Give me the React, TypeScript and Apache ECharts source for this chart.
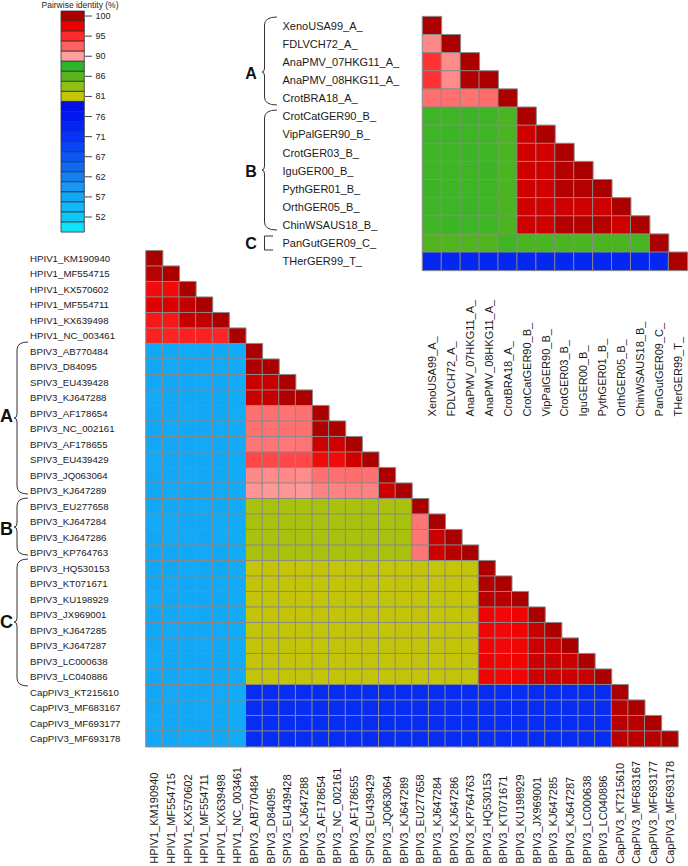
import React, { useEffect, useRef } from "react";
import * as echarts from "echarts";

const FONT = "'Liberation Sans', Arial, sans-serif";

const upperLabels = [
  "XenoUSA99_A_", "FDLVCH72_A_", "AnaPMV_07HKG11_A_", "AnaPMV_08HKG11_A_", "CrotBRA18_A_",
  "CrotCatGER90_B_", "VipPalGER90_B_", "CrotGER03_B_", "IguGER00_B_", "PythGER01_B_",
  "OrthGER05_B_", "ChinWSAUS18_B_", "PanGutGER09_C_", "THerGER99_T_",
];

const lowerLabels = [
  "HPIV1_KM190940", "HPIV1_MF554715", "HPIV1_KX570602", "HPIV1_MF554711", "HPIV1_KX639498",
  "HPIV1_NC_003461", "BPIV3_AB770484", "BPIV3_D84095", "SPIV3_EU439428", "BPIV3_KJ647288",
  "BPIV3_AF178654", "BPIV3_NC_002161", "BPIV3_AF178655", "SPIV3_EU439429", "BPIV3_JQ063064",
  "BPIV3_KJ647289", "BPIV3_EU277658", "BPIV3_KJ647284", "BPIV3_KJ647286", "BPIV3_KP764763",
  "BPIV3_HQ530153", "BPIV3_KT071671", "BPIV3_KU198929", "BPIV3_JX969001", "BPIV3_KJ647285",
  "BPIV3_KJ647287", "BPIV3_LC000638", "BPIV3_LC040886", "CapPIV3_KT215610", "CapPIV3_MF683167",
  "CapPIV3_MF693177", "CapPIV3_MF693178",
];

// Pairwise identity (%) — lower triangle, row by row
const upperValues: number[][] = [
  [100],
  [91.3, 100],
  [94.8, 91.2, 100],
  [94.8, 91.2, 99.8, 100],
  [92.2, 92.2, 92.1, 92.3, 100],
  [87.2, 87.2, 87.3, 87.2, 86.4, 100],
  [87.2, 87.3, 87.2, 87.2, 86.4, 98.7, 100],
  [87.2, 87.2, 87.3, 87.2, 86.4, 98.7, 98.6, 100],
  [87.2, 87.2, 87.2, 87.3, 86.4, 98.7, 98.7, 99.7, 100],
  [87.3, 87.2, 87.2, 87.2, 86.4, 98.7, 98.6, 99.6, 99.7, 100],
  [87.2, 87.2, 87.3, 87.2, 86.5, 98.6, 98.6, 98.7, 98.7, 98.7, 100],
  [87.2, 87.3, 87.2, 87.2, 86.4, 98.7, 98.7, 99.7, 99.6, 99.6, 98.7, 100],
  [86.0, 86.0, 86.1, 86.0, 87.0, 86.5, 86.6, 86.4, 86.5, 86.4, 86.5, 86.6, 100],
  [73.0, 73.0, 73.1, 73.0, 73.1, 73.0, 73.0, 72.9, 73.0, 73.0, 73.1, 73.0, 73.1, 100],
];

const lowerValues: number[][] = [
  [100],
  [99.4, 100],
  [97.0, 97.0, 100],
  [98.1, 98.2, 99.2, 100],
  [96.3, 96.3, 99.0, 99.2, 100],
  [95.7, 95.6, 95.7, 95.7, 95.5, 100],
  [56.8, 56.8, 56.7, 56.8, 56.8, 56.4, 100],
  [56.8, 56.7, 56.8, 56.8, 56.7, 56.4, 99.9, 100],
  [56.8, 56.8, 56.8, 56.7, 56.8, 56.4, 98.9, 98.9, 100],
  [56.7, 56.8, 56.8, 56.8, 56.8, 56.3, 98.9, 99.1, 99.8, 100],
  [56.8, 56.8, 56.7, 56.8, 56.8, 56.0, 92.2, 92.2, 92.1, 92.2, 100],
  [56.8, 56.7, 56.8, 56.8, 56.7, 56.4, 92.2, 92.1, 92.2, 92.2, 99.8, 100],
  [56.8, 56.8, 56.8, 56.7, 56.8, 56.4, 92.0, 92.0, 91.9, 92.0, 98.7, 98.7, 100],
  [56.7, 56.8, 56.8, 56.8, 56.8, 56.3, 93.9, 93.9, 93.8, 93.9, 97.0, 97.0, 98.7, 100],
  [56.8, 56.8, 56.7, 56.8, 56.8, 56.4, 91.3, 91.2, 91.3, 91.2, 92.2, 92.2, 92.3, 92.2, 100],
  [56.8, 56.7, 56.8, 56.8, 56.7, 56.4, 90.8, 90.7, 90.8, 90.7, 91.5, 91.5, 91.6, 91.5, 98.8, 100],
  [56.8, 56.8, 56.8, 56.7, 56.8, 56.4, 82.0, 82.1, 82.0, 82.0, 82.1, 82.0, 82.0, 82.1, 82.0, 82.0, 100],
  [56.7, 56.3, 56.8, 56.8, 56.3, 56.4, 82.1, 82.0, 82.0, 82.1, 82.0, 82.0, 82.1, 82.0, 82.0, 82.1, 92.0, 100],
  [56.8, 56.3, 56.7, 56.8, 56.3, 56.4, 82.0, 82.0, 82.1, 82.0, 82.0, 82.1, 82.0, 82.0, 82.1, 82.0, 92.0, 98.8, 100],
  [56.8, 56.8, 56.8, 56.7, 56.8, 56.4, 82.0, 82.1, 82.0, 82.0, 82.1, 82.0, 82.0, 82.1, 82.0, 82.0, 92.0, 98.8, 99.5, 100],
  [56.8, 56.8, 56.7, 56.8, 56.8, 56.4, 80.8, 80.9, 80.8, 80.8, 80.9, 80.8, 80.8, 80.9, 80.8, 80.8, 80.9, 80.8, 80.8, 80.9, 100],
  [56.8, 56.7, 56.8, 56.8, 56.7, 56.4, 80.9, 80.8, 80.8, 80.9, 80.8, 80.8, 80.9, 80.8, 80.8, 80.9, 80.8, 80.8, 80.9, 80.8, 99.8, 100],
  [56.7, 56.8, 56.8, 56.8, 56.8, 56.3, 80.8, 80.8, 80.9, 80.8, 80.8, 80.9, 80.8, 80.8, 80.9, 80.8, 80.8, 80.9, 80.8, 80.8, 99.5, 99.5, 100],
  [56.8, 56.8, 56.7, 56.8, 56.8, 56.4, 80.8, 80.9, 80.8, 80.8, 80.9, 80.8, 80.8, 80.9, 80.8, 80.8, 80.9, 80.8, 80.8, 80.9, 97.4, 97.2, 97.4, 100],
  [56.8, 56.7, 56.8, 56.8, 56.7, 56.4, 80.9, 80.8, 80.8, 80.9, 80.8, 80.8, 80.9, 80.8, 80.8, 80.9, 80.8, 80.8, 80.9, 80.8, 97.3, 97.2, 97.4, 98.9, 100],
  [56.8, 56.8, 56.8, 56.7, 56.8, 56.4, 80.8, 80.8, 80.9, 80.8, 80.8, 80.9, 80.8, 80.8, 80.9, 80.8, 80.8, 80.9, 80.8, 80.8, 97.3, 97.2, 97.3, 98.8, 98.9, 100],
  [56.7, 56.8, 56.8, 56.8, 56.8, 56.3, 80.8, 80.9, 80.8, 80.8, 80.9, 80.8, 80.8, 80.9, 80.8, 80.8, 80.9, 80.8, 80.8, 80.9, 97.5, 97.3, 97.4, 98.9, 98.9, 98.8, 100],
  [56.8, 56.8, 56.7, 56.8, 56.8, 56.4, 80.9, 80.8, 80.8, 80.9, 80.8, 80.8, 80.9, 80.8, 80.8, 80.9, 80.8, 80.8, 80.9, 80.8, 97.4, 97.2, 97.3, 98.8, 98.9, 98.8, 98.9, 100],
  [56.8, 56.7, 56.8, 56.8, 56.7, 56.3, 72.0, 72.1, 71.9, 72.0, 72.1, 72.0, 71.9, 72.0, 72.1, 72.0, 72.0, 71.9, 72.0, 72.1, 72.0, 72.0, 71.9, 72.0, 72.1, 72.0, 72.0, 72.0, 100],
  [56.8, 56.8, 56.8, 56.7, 56.8, 56.4, 72.1, 72.0, 72.0, 71.9, 72.0, 72.1, 72.0, 72.0, 71.9, 72.0, 72.1, 72.0, 72.0, 71.9, 72.0, 72.1, 72.0, 72.0, 71.9, 72.0, 72.1, 72.0, 99.5, 100],
  [56.7, 56.8, 56.8, 56.8, 56.8, 56.4, 72.0, 71.9, 72.0, 72.1, 72.0, 72.0, 71.9, 72.1, 72.0, 72.0, 72.0, 72.1, 71.9, 72.0, 72.0, 72.0, 72.1, 71.9, 72.0, 72.0, 72.0, 72.1, 99.5, 99.5, 100],
  [56.8, 56.8, 56.7, 56.8, 56.8, 56.3, 72.0, 72.0, 72.1, 72.0, 71.9, 72.0, 72.0, 72.1, 72.0, 71.9, 72.0, 72.0, 72.1, 72.0, 71.9, 72.0, 72.0, 72.1, 72.0, 72.0, 71.9, 72.0, 99.5, 99.5, 99.5, 100],
];

// Colour scale, top (100 %) to bottom
const legendColors = [
  "#aa0000", "#ee0000", "#ff2a2a", "#ff6060", "#ffa0a0",
  "#2eb52a", "#5ab51c", "#8fc014", "#c4c408",
  "#0010e6", "#0018ee", "#0424f0", "#0832f4", "#0a44f4", "#0c56f4",
  "#1068ee", "#1480ee", "#1698f4", "#12a8f8", "#10b8f8", "#0cc8f8", "#10e2f8",
];
const legendTicks = ["100", "95", "90", "86", "81", "76", "71", "67", "62", "57", "52"];
const legendTitle = "Pairwise identity (%)";
const scaleMax = 100;
const scaleMin = 49.6;

const upperGroups = [
  { label: "A", y0: 17, y1: 105, ym: 72, ly: 73 },
  { label: "B", y0: 110, y1: 230, ym: 170, ly: 171 },
];
const lowerGroups = [
  { label: "A", y0: 342, y1: 494, ym: 418, ly: 416 },
  { label: "B", y0: 498, y1: 555, ym: 527, ly: 529 },
  { label: "C", y0: 559, y1: 686, ym: 622, ly: 622 },
];

function toCells(rows: number[][]) {
  const out: number[][] = [];
  rows.forEach((row, r) => row.forEach((v, c) => out.push([c, r, v])));
  return out;
}

function brace(xTip: number, xLine: number, xEnd: number, y0: number, y1: number, ym: number, r: number) {
  const s = { stroke: "#333", lineWidth: 1, fill: "none" };
  return [
    { type: "bezierCurve", shape: { x1: xEnd, y1: y0, x2: xLine, y2: y0 + r, cpx1: xLine, cpy1: y0 }, style: s },
    { type: "line", shape: { x1: xLine, y1: y0 + r, x2: xLine, y2: ym - 4 }, style: s },
    { type: "bezierCurve", shape: { x1: xLine, y1: ym - 4, x2: xTip, y2: ym, cpx1: xLine, cpy1: ym }, style: s },
    { type: "bezierCurve", shape: { x1: xTip, y1: ym, x2: xLine, y2: ym + 4, cpx1: xLine, cpy1: ym }, style: s },
    { type: "line", shape: { x1: xLine, y1: ym + 4, x2: xLine, y2: y1 - r }, style: s },
    { type: "bezierCurve", shape: { x1: xLine, y1: y1 - r, x2: xEnd, y2: y1, cpx1: xLine, cpy1: y1 }, style: s },
  ];
}

export default function App() {
  const ref = useRef<HTMLDivElement>(null);
  useEffect(() => {
    document.body.style.margin = "0";
    if (!ref.current) return;
    const chart = echarts.init(ref.current, undefined, { renderer: "svg" });

    const boxTop = 11;
    const boxH = 10.05;
    const graphics: any[] = [];
    graphics.push({
      type: "text", x: 80, y: 5,
      style: { text: legendTitle, fontSize: 8.5, fontFamily: FONT, fill: "#222", align: "center", verticalAlign: "middle" },
    });
    legendColors.forEach((c, i) => {
      graphics.push({
        type: "rect",
        shape: { x: 61, y: boxTop + i * boxH, width: 23.3, height: boxH },
        style: { fill: c, stroke: "#333", lineWidth: 0.8 },
      });
    });
    legendTicks.forEach((t, k) => {
      const y = boxTop + 2 * k * boxH + boxH / 2;
      graphics.push({ type: "line", shape: { x1: 85, y1: y, x2: 92, y2: y }, style: { stroke: "#444", lineWidth: 1 } });
      graphics.push({
        type: "text", x: 95.5, y,
        style: { text: t, fontSize: 9, fontFamily: FONT, fill: "#222", align: "left", verticalAlign: "middle" },
      });
    });
    upperGroups.forEach((g) => {
      graphics.push(...brace(262, 264.5, 277, g.y0, g.y1, g.ym, 8));
      graphics.push({
        type: "text", x: 251, y: g.ly,
        style: { text: g.label, fontSize: 16, fontWeight: "bold", fontFamily: FONT, fill: "#111", align: "center", verticalAlign: "middle" },
      });
    });
    // C bracket (upper)
    graphics.push({
      type: "polyline",
      shape: { points: [[273, 236], [264.5, 236], [264.5, 250], [273, 250]] },
      style: { stroke: "#333", lineWidth: 1, fill: "none" },
    });
    graphics.push({
      type: "text", x: 251, y: 243,
      style: { text: "C", fontSize: 16, fontWeight: "bold", fontFamily: FONT, fill: "#111", align: "center", verticalAlign: "middle" },
    });
    lowerGroups.forEach((g) => {
      graphics.push(...brace(14, 17, 28, g.y0, g.y1, g.ym, 8));
      graphics.push({
        type: "text", x: 6.5, y: g.ly,
        style: { text: g.label, fontSize: 18, fontWeight: "bold", fontFamily: FONT, fill: "#111", align: "center", verticalAlign: "middle" },
      });
    });

    const axisCommon = {
      type: "category",
      axisLine: { show: false },
      axisTick: { show: false },
      splitLine: { show: false },
    };
    const labelColor = "#1a1a1a";

    const option: any = {
      animation: false,
      textStyle: { fontFamily: FONT },
      grid: [
        { left: 422.5, top: 16.6, width: 265, height: 253.8, outerBoundsMode: "none", containLabel: false },
        { left: 146, top: 250.7, width: 532, height: 496, outerBoundsMode: "none", containLabel: false },
      ],
      xAxis: [
        {
          ...axisCommon, gridIndex: 0, data: upperLabels,
          axisLabel: { interval: 0, rotate: 90, align: "left", margin: 146, fontSize: 11, color: labelColor, fontFamily: FONT },
        },
        {
          ...axisCommon, gridIndex: 1, data: lowerLabels,
          axisLabel: { interval: 0, rotate: 90, align: "left", margin: 117, fontSize: 11, color: labelColor, fontFamily: FONT },
        },
      ],
      yAxis: [
        {
          ...axisCommon, gridIndex: 0, data: upperLabels, inverse: true,
          axisLabel: { interval: 0, align: "left", margin: 140, fontSize: 11, color: labelColor, fontFamily: FONT },
        },
        {
          ...axisCommon, gridIndex: 1, data: lowerLabels, inverse: true,
          axisLabel: { interval: 0, align: "left", margin: 116, fontSize: 9.7, color: labelColor, fontFamily: FONT },
        },
      ],
      visualMap: {
        type: "continuous",
        show: false,
        min: scaleMin,
        max: scaleMax,
        seriesIndex: [0, 1],
        dimension: 2,
        inRange: { color: [...legendColors].reverse() },
      },
      series: [
        {
          type: "heatmap", xAxisIndex: 0, yAxisIndex: 0, data: toCells(upperValues),
          itemStyle: { borderColor: "#8a8a8a", borderWidth: 1 },
          emphasis: { disabled: true },
        },
        {
          type: "heatmap", xAxisIndex: 1, yAxisIndex: 1, data: toCells(lowerValues),
          itemStyle: { borderColor: "#8a8a8a", borderWidth: 1 },
          emphasis: { disabled: true },
        },
      ],
      graphic: graphics,
    };
    chart.setOption(option);
    return () => chart.dispose();
  }, []);
  return <div ref={ref} style={{ width: 688, height: 866 }} />;
}
